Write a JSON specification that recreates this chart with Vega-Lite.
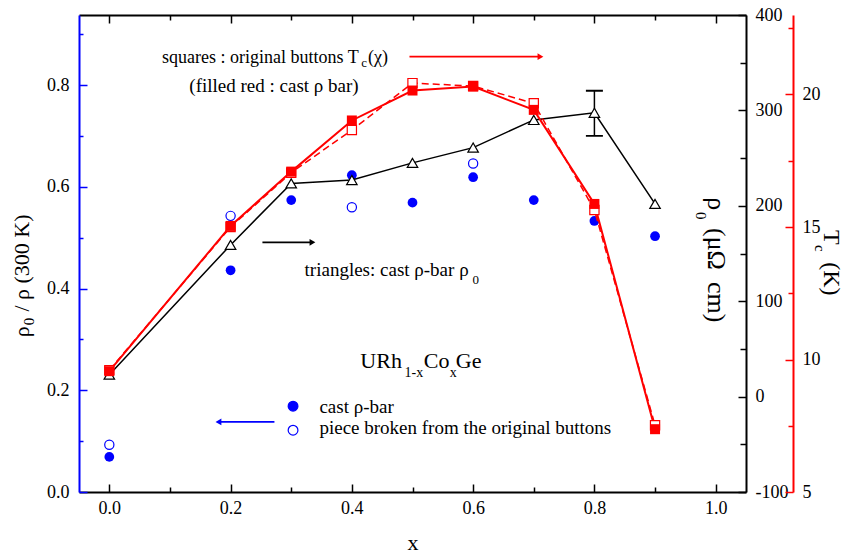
{
  "$schema": "https://vega.github.io/schema/vega-lite/v6.json",
  "width": 667,
  "height": 477,
  "autosize": {"type": "none"},
  "padding": {"left": 79, "top": 15, "right": 105, "bottom": 65},
  "background": "white",
  "config": {
    "font": "Liberation Serif",
    "view": {"stroke": null},
    "axis": {"grid": false, "labelFont": "Liberation Serif", "titleFont": "Liberation Serif", "labelColor": "black", "titleColor": "black", "titleFontWeight": "normal"},
    "text": {"font": "Liberation Serif", "color": "black", "align": "left", "baseline": "alphabetic"}
  },
  "datasets": {
    "circles": [
      {"x": 0.0, "ratio": 0.069, "kind": "cast"},
      {"x": 0.2, "ratio": 0.436, "kind": "cast"},
      {"x": 0.3, "ratio": 0.574, "kind": "cast"},
      {"x": 0.4, "ratio": 0.623, "kind": "cast"},
      {"x": 0.5, "ratio": 0.569, "kind": "cast"},
      {"x": 0.6, "ratio": 0.619, "kind": "cast"},
      {"x": 0.7, "ratio": 0.574, "kind": "cast"},
      {"x": 0.8, "ratio": 0.533, "kind": "cast"},
      {"x": 0.9, "ratio": 0.503, "kind": "cast"},
      {"x": 0.0, "ratio": 0.093, "kind": "piece"},
      {"x": 0.2, "ratio": 0.543, "kind": "piece"},
      {"x": 0.4, "ratio": 0.560, "kind": "piece"},
      {"x": 0.6, "ratio": 0.646, "kind": "piece"}
    ],
    "key": [
      {"x": 0.303, "ratio": 0.1687, "kind": "cast"},
      {"x": 0.303, "ratio": 0.1215, "kind": "piece"}
    ],
    "triangles": [
      {"x": 0.0, "rho0": 23},
      {"x": 0.2, "rho0": 159},
      {"x": 0.3, "rho0": 223.5},
      {"x": 0.4, "rho0": 227},
      {"x": 0.5, "rho0": 245},
      {"x": 0.6, "rho0": 261},
      {"x": 0.7, "rho0": 290},
      {"x": 0.8, "rho0": 297.5},
      {"x": 0.9, "rho0": 202}
    ],
    "err": [
      {"x": 0.8, "lo": 273.4, "hi": 320.6}
    ],
    "squares": [
      {"x": 0.0, "tc": 9.6, "kind": "open"},
      {"x": 0.2, "tc": 15.0, "kind": "open"},
      {"x": 0.3, "tc": 17.05, "kind": "open"},
      {"x": 0.4, "tc": 18.66, "kind": "open"},
      {"x": 0.5, "tc": 20.43, "kind": "open"},
      {"x": 0.6, "tc": 20.32, "kind": "open"},
      {"x": 0.7, "tc": 19.67, "kind": "open"},
      {"x": 0.8, "tc": 15.64, "kind": "open"},
      {"x": 0.9, "tc": 7.52, "kind": "open"},
      {"x": 0.0, "tc": 9.56, "kind": "filled"},
      {"x": 0.2, "tc": 15.04, "kind": "filled"},
      {"x": 0.3, "tc": 17.09, "kind": "filled"},
      {"x": 0.4, "tc": 19.02, "kind": "filled"},
      {"x": 0.5, "tc": 20.15, "kind": "filled"},
      {"x": 0.6, "tc": 20.3, "kind": "filled"},
      {"x": 0.7, "tc": 19.42, "kind": "filled"},
      {"x": 0.8, "tc": 15.87, "kind": "filled"},
      {"x": 0.9, "tc": 7.37, "kind": "filled"}
    ],
    "arrows": [
      {"x": 0.2723, "x2": 0.180, "y": 0.1378, "series": "ratio", "dir": "left"},
      {"x": 0.2525, "x2": 0.335, "y": 0.491, "series": "rho0", "dir": "right"},
      {"x": 0.495, "x2": 0.711, "y": 0.856, "series": "Tc", "dir": "right"}
    ],
    "labels": [
      {"role": "note-top", "text": "squares : original buttons T", "x": 0.087, "y": 0.844},
      {"role": "note-sub", "text": "c", "x": 0.4155, "y": 0.8354},
      {"role": "note-top", "text": "(χ)", "x": 0.4265, "y": 0.844},
      {"role": "note", "text": "(filled red : cast ρ bar)", "x": 0.132, "y": 0.787},
      {"role": "note", "text": "triangles: cast ρ-bar ρ", "x": 0.322, "y": 0.4246},
      {"role": "note-sub", "text": "0", "x": 0.599, "y": 0.410},
      {"role": "note", "text": "cast ρ-bar", "x": 0.3465, "y": 0.156},
      {"role": "note", "text": "piece broken from the original buttons", "x": 0.3465, "y": 0.1136},
      {"role": "formula", "text": "URh", "x": 0.414, "y": 0.244},
      {"role": "formula-sub", "text": "1-x", "x": 0.487, "y": 0.2264},
      {"role": "formula", "text": "Co", "x": 0.5185, "y": 0.244},
      {"role": "formula-sub", "text": "x", "x": 0.5615, "y": 0.2264},
      {"role": "formula", "text": "Ge", "x": 0.5715, "y": 0.244},
      {"role": "title-down", "text": "ρ", "x": 0.988, "y": 0.5797},
      {"role": "title-down-sub", "text": "0", "x": 0.967, "y": 0.5506},
      {"role": "title-down", "text": "(μΩ", "x": 0.988, "y": 0.5191},
      {"role": "title-down", "text": "cm)", "x": 0.988, "y": 0.4128},
      {"role": "title-tc", "text": "T", "x": 1.178, "y": 0.515},
      {"role": "title-down-sub", "text": "c", "x": 1.163, "y": 0.4856},
      {"role": "title-tc", "text": "(K)", "x": 1.178, "y": 0.452},
      {"role": "title-up", "text": "ρ", "x": -0.132, "y": 0.3045},
      {"role": "title-up-sub", "text": "0", "x": -0.124, "y": 0.328},
      {"role": "title-up", "text": "/ ρ (300 K)", "x": -0.132, "y": 0.3547}
    ]
  },
  "layer": [
    {
      "layer": [
        {
          "data": {"name": "circles"},
          "transform": [{"filter": "datum.kind == 'cast'"}],
          "mark": {"type": "point", "shape": "circle", "filled": true, "color": "#0000ff", "size": 95, "opacity": 1},
          "encoding": {
            "x": {
              "field": "x", "type": "quantitative",
              "scale": {"domain": [-0.05, 1.05], "nice": false, "zero": false},
              "axis": {
                "orient": "bottom",
                "values": [0, 0.1, 0.2, 0.3, 0.4, 0.5, 0.6, 0.7, 0.8, 0.9, 1.0],
                "labelExpr": "round(datum.value * 10) % 2 == 0 ? format(datum.value, '.1f') : ''",
                "tickSize": {"condition": {"test": "round(datum.value * 10) % 2 == 0", "value": -8}, "value": -5},
                "tickColor": "black", "tickWidth": 1.5,
                "domainColor": "black", "domainWidth": 2,
                "labelFontSize": 18, "labelPadding": 15, "labelOverlap": false,
                "title": "x", "titleFontSize": 22, "titleBaseline": "alphabetic", "titleY": 57
              }
            },
            "y": {
              "field": "ratio", "type": "quantitative",
              "scale": {"domain": [0, 0.938], "nice": false, "zero": false},
              "axis": {
                "orient": "left",
                "values": [0, 0.1, 0.2, 0.3, 0.4, 0.5, 0.6, 0.7, 0.8, 0.9],
                "labelExpr": "round(datum.value * 10) % 2 == 0 ? format(datum.value, '.1f') : ''",
                "tickSize": {"condition": {"test": "round(datum.value * 10) % 2 == 0", "value": -8}, "value": -4},
                "tickColor": "#0000ff", "tickWidth": 1.5,
                "domainColor": "#0000ff", "domainWidth": 2,
                "labelFontSize": 18, "labelPadding": 18, "labelOverlap": false,
                "title": null
              }
            }
          }
        },
        {
          "data": {"name": "circles"},
          "transform": [{"filter": "datum.kind == 'piece'"}],
          "mark": {"type": "point", "shape": "circle", "filled": false, "stroke": "#0000ff", "strokeWidth": 1.2, "size": 85, "opacity": 1},
          "encoding": {
            "x": {"field": "x", "type": "quantitative", "scale": {"domain": [-0.05, 1.05], "nice": false, "zero": false}},
            "y": {"field": "ratio", "type": "quantitative", "scale": {"domain": [0, 0.938], "nice": false, "zero": false}}
          }
        },
        {
          "data": {"name": "key"},
          "mark": {"type": "point", "shape": "circle", "size": 95, "opacity": 1, "strokeWidth": 1.2},
          "encoding": {
            "x": {"field": "x", "type": "quantitative", "scale": {"domain": [-0.05, 1.05], "nice": false, "zero": false}},
            "y": {"field": "ratio", "type": "quantitative", "scale": {"domain": [0, 0.938], "nice": false, "zero": false}},
            "fill": {"field": "kind", "type": "nominal", "scale": {"domain": ["cast", "piece"], "range": ["#0000ff", "transparent"]}, "legend": null},
            "stroke": {"value": "#0000ff"}
          }
        },
        {
          "data": {"name": "arrows"},
          "mark": {"type": "rule", "strokeWidth": 1.8},
          "encoding": {
            "x": {"field": "x", "type": "quantitative", "scale": {"domain": [-0.05, 1.05], "nice": false, "zero": false}},
            "x2": {"field": "x2"},
            "y": {"field": "y", "type": "quantitative", "scale": {"domain": [0, 0.938], "nice": false, "zero": false}},
            "color": {"field": "series", "type": "nominal", "scale": {"domain": ["ratio", "rho0", "Tc"], "range": ["#0000ff", "black", "#ff0000"]}, "legend": null}
          }
        },
        {
          "data": {"name": "arrows"},
          "mark": {"type": "point", "filled": true, "size": 45, "opacity": 1},
          "encoding": {
            "x": {"field": "x2", "type": "quantitative", "scale": {"domain": [-0.05, 1.05], "nice": false, "zero": false}},
            "y": {"field": "y", "type": "quantitative", "scale": {"domain": [0, 0.938], "nice": false, "zero": false}},
            "shape": {"field": "dir", "type": "nominal", "scale": {"domain": ["left", "right"], "range": ["triangle-left", "triangle-right"]}, "legend": null},
            "color": {"field": "series", "type": "nominal", "scale": {"domain": ["ratio", "rho0", "Tc"], "range": ["#0000ff", "black", "#ff0000"]}, "legend": null}
          }
        },
        {
          "data": {"name": "labels"},
          "transform": [{"filter": "datum.role == 'note-top'"}],
          "mark": {"type": "text", "fontSize": 18},
          "encoding": {
            "x": {"field": "x", "type": "quantitative", "scale": {"domain": [-0.05, 1.05], "nice": false, "zero": false}},
            "y": {"field": "y", "type": "quantitative", "scale": {"domain": [0, 0.938], "nice": false, "zero": false}},
            "text": {"field": "text"}
          }
        },
        {
          "data": {"name": "labels"},
          "transform": [{"filter": "datum.role == 'note'"}],
          "mark": {"type": "text", "fontSize": 19},
          "encoding": {
            "x": {"field": "x", "type": "quantitative", "scale": {"domain": [-0.05, 1.05], "nice": false, "zero": false}},
            "y": {"field": "y", "type": "quantitative", "scale": {"domain": [0, 0.938], "nice": false, "zero": false}},
            "text": {"field": "text"}
          }
        },
        {
          "data": {"name": "labels"},
          "transform": [{"filter": "datum.role == 'note-sub'"}],
          "mark": {"type": "text", "fontSize": 13},
          "encoding": {
            "x": {"field": "x", "type": "quantitative", "scale": {"domain": [-0.05, 1.05], "nice": false, "zero": false}},
            "y": {"field": "y", "type": "quantitative", "scale": {"domain": [0, 0.938], "nice": false, "zero": false}},
            "text": {"field": "text"}
          }
        },
        {
          "data": {"name": "labels"},
          "transform": [{"filter": "datum.role == 'formula'"}],
          "mark": {"type": "text", "fontSize": 22},
          "encoding": {
            "x": {"field": "x", "type": "quantitative", "scale": {"domain": [-0.05, 1.05], "nice": false, "zero": false}},
            "y": {"field": "y", "type": "quantitative", "scale": {"domain": [0, 0.938], "nice": false, "zero": false}},
            "text": {"field": "text"}
          }
        },
        {
          "data": {"name": "labels"},
          "transform": [{"filter": "datum.role == 'formula-sub'"}],
          "mark": {"type": "text", "fontSize": 14},
          "encoding": {
            "x": {"field": "x", "type": "quantitative", "scale": {"domain": [-0.05, 1.05], "nice": false, "zero": false}},
            "y": {"field": "y", "type": "quantitative", "scale": {"domain": [0, 0.938], "nice": false, "zero": false}},
            "text": {"field": "text"}
          }
        },
        {
          "data": {"name": "labels"},
          "transform": [{"filter": "datum.role == 'title-down'"}],
          "mark": {"type": "text", "fontSize": 26, "angle": 90},
          "encoding": {
            "x": {"field": "x", "type": "quantitative", "scale": {"domain": [-0.05, 1.05], "nice": false, "zero": false}},
            "y": {"field": "y", "type": "quantitative", "scale": {"domain": [0, 0.938], "nice": false, "zero": false}},
            "text": {"field": "text"}
          }
        },
        {
          "data": {"name": "labels"},
          "transform": [{"filter": "datum.role == 'title-tc'"}],
          "mark": {"type": "text", "fontSize": 24, "angle": 90},
          "encoding": {
            "x": {"field": "x", "type": "quantitative", "scale": {"domain": [-0.05, 1.05], "nice": false, "zero": false}},
            "y": {"field": "y", "type": "quantitative", "scale": {"domain": [0, 0.938], "nice": false, "zero": false}},
            "text": {"field": "text"}
          }
        },
        {
          "data": {"name": "labels"},
          "transform": [{"filter": "datum.role == 'title-down-sub'"}],
          "mark": {"type": "text", "fontSize": 15, "angle": 90},
          "encoding": {
            "x": {"field": "x", "type": "quantitative", "scale": {"domain": [-0.05, 1.05], "nice": false, "zero": false}},
            "y": {"field": "y", "type": "quantitative", "scale": {"domain": [0, 0.938], "nice": false, "zero": false}},
            "text": {"field": "text"}
          }
        },
        {
          "data": {"name": "labels"},
          "transform": [{"filter": "datum.role == 'title-up'"}],
          "mark": {"type": "text", "fontSize": 22, "angle": 270},
          "encoding": {
            "x": {"field": "x", "type": "quantitative", "scale": {"domain": [-0.05, 1.05], "nice": false, "zero": false}},
            "y": {"field": "y", "type": "quantitative", "scale": {"domain": [0, 0.938], "nice": false, "zero": false}},
            "text": {"field": "text"}
          }
        },
        {
          "data": {"name": "labels"},
          "transform": [{"filter": "datum.role == 'title-up-sub'"}],
          "mark": {"type": "text", "fontSize": 15, "angle": 270},
          "encoding": {
            "x": {"field": "x", "type": "quantitative", "scale": {"domain": [-0.05, 1.05], "nice": false, "zero": false}},
            "y": {"field": "y", "type": "quantitative", "scale": {"domain": [0, 0.938], "nice": false, "zero": false}},
            "text": {"field": "text"}
          }
        }
      ]
    },
    {
      "layer": [
        {
          "data": {"name": "triangles"},
          "mark": {"type": "line", "color": "black", "strokeWidth": 1.5},
          "encoding": {
            "x": {
              "field": "x", "type": "quantitative",
              "scale": {"domain": [-0.05, 1.05], "nice": false, "zero": false},
              "axis": {
                "orient": "top",
                "values": [0, 0.1, 0.2, 0.3, 0.4, 0.5, 0.6, 0.7, 0.8, 0.9, 1.0],
                "labels": false,
                "tickSize": {"condition": {"test": "round(datum.value * 10) % 2 == 0", "value": -8}, "value": -5},
                "tickColor": "black", "tickWidth": 1.5,
                "domainColor": "black", "domainWidth": 2,
                "title": null
              }
            },
            "y": {
              "field": "rho0", "type": "quantitative",
              "scale": {"domain": [-100, 400], "nice": false, "zero": false},
              "axis": {
                "orient": "right",
                "values": [-100, -50, 0, 50, 100, 150, 200, 250, 300, 350, 400],
                "labelExpr": "datum.value % 100 == 0 ? '' + datum.value : ''",
                "tickSize": {"condition": {"test": "datum.value % 100 == 0", "value": -8}, "value": -6},
                "tickColor": "black", "tickWidth": 1.5,
                "domainColor": "black", "domainWidth": 2,
                "labelFontSize": 18, "labelPadding": 17, "labelOverlap": false,
                "title": null
              }
            }
          }
        },
        {
          "data": {"name": "err"},
          "mark": {"type": "rule", "color": "black", "strokeWidth": 1.5},
          "encoding": {
            "x": {"field": "x", "type": "quantitative", "scale": {"domain": [-0.05, 1.05], "nice": false, "zero": false}},
            "y": {"field": "lo", "type": "quantitative", "scale": {"domain": [-100, 400], "nice": false, "zero": false}},
            "y2": {"field": "hi"}
          }
        },
        {
          "data": {"name": "err"},
          "mark": {"type": "tick", "orient": "horizontal", "color": "black", "size": 17, "thickness": 1.8, "opacity": 1},
          "encoding": {
            "x": {"field": "x", "type": "quantitative", "scale": {"domain": [-0.05, 1.05], "nice": false, "zero": false}},
            "y": {"field": "lo", "type": "quantitative", "scale": {"domain": [-100, 400], "nice": false, "zero": false}}
          }
        },
        {
          "data": {"name": "err"},
          "mark": {"type": "tick", "orient": "horizontal", "color": "black", "size": 17, "thickness": 1.8, "opacity": 1},
          "encoding": {
            "x": {"field": "x", "type": "quantitative", "scale": {"domain": [-0.05, 1.05], "nice": false, "zero": false}},
            "y": {"field": "hi", "type": "quantitative", "scale": {"domain": [-100, 400], "nice": false, "zero": false}}
          }
        },
        {
          "data": {"name": "triangles"},
          "mark": {"type": "point", "shape": "triangle-up", "filled": true, "fill": "white", "stroke": "black", "strokeWidth": 1.2, "size": 110, "opacity": 1},
          "encoding": {
            "x": {"field": "x", "type": "quantitative", "scale": {"domain": [-0.05, 1.05], "nice": false, "zero": false}},
            "y": {"field": "rho0", "type": "quantitative", "scale": {"domain": [-100, 400], "nice": false, "zero": false}}
          }
        }
      ]
    },
    {
      "layer": [
        {
          "data": {"name": "squares"},
          "transform": [{"filter": "datum.kind == 'open'"}],
          "mark": {"type": "line", "color": "#ff0000", "strokeWidth": 1.5, "strokeDash": [7, 4]},
          "encoding": {
            "x": {"field": "x", "type": "quantitative", "scale": {"domain": [-0.05, 1.05], "nice": false, "zero": false}, "axis": null},
            "y": {
              "field": "tc", "type": "quantitative",
              "scale": {"domain": [5, 23], "nice": false, "zero": false},
              "axis": {
                "orient": "right", "offset": 47,
                "values": [5, 7.5, 10, 12.5, 15, 17.5, 20, 22.5],
                "labelExpr": "datum.value % 5 == 0 ? '' + datum.value : ''",
                "tickSize": {"condition": {"test": "datum.value % 5 == 0", "value": -8}, "value": -5},
                "tickColor": "#ff0000", "tickWidth": 1.5,
                "domainColor": "#ff0000", "domainWidth": 2,
                "labelFontSize": 18, "labelPadding": 17, "labelOverlap": false,
                "title": null
              }
            }
          }
        },
        {
          "data": {"name": "squares"},
          "transform": [{"filter": "datum.kind == 'filled'"}],
          "mark": {"type": "line", "color": "#ff0000", "strokeWidth": 2},
          "encoding": {
            "x": {"field": "x", "type": "quantitative", "scale": {"domain": [-0.05, 1.05], "nice": false, "zero": false}},
            "y": {"field": "tc", "type": "quantitative", "scale": {"domain": [5, 23], "nice": false, "zero": false}}
          }
        },
        {
          "data": {"name": "squares"},
          "transform": [{"filter": "datum.kind == 'open'"}],
          "mark": {"type": "point", "shape": "square", "filled": true, "fill": "white", "stroke": "#ff0000", "strokeWidth": 1.2, "size": 85, "opacity": 1},
          "encoding": {
            "x": {"field": "x", "type": "quantitative", "scale": {"domain": [-0.05, 1.05], "nice": false, "zero": false}},
            "y": {"field": "tc", "type": "quantitative", "scale": {"domain": [5, 23], "nice": false, "zero": false}}
          }
        },
        {
          "data": {"name": "squares"},
          "transform": [{"filter": "datum.kind == 'filled'"}],
          "mark": {"type": "point", "shape": "square", "filled": true, "color": "#ff0000", "size": 100, "opacity": 1},
          "encoding": {
            "x": {"field": "x", "type": "quantitative", "scale": {"domain": [-0.05, 1.05], "nice": false, "zero": false}},
            "y": {"field": "tc", "type": "quantitative", "scale": {"domain": [5, 23], "nice": false, "zero": false}}
          }
        }
      ]
    }
  ],
  "resolve": {"scale": {"x": "independent", "y": "independent", "color": "independent", "shape": "independent", "fill": "independent"}}
}
